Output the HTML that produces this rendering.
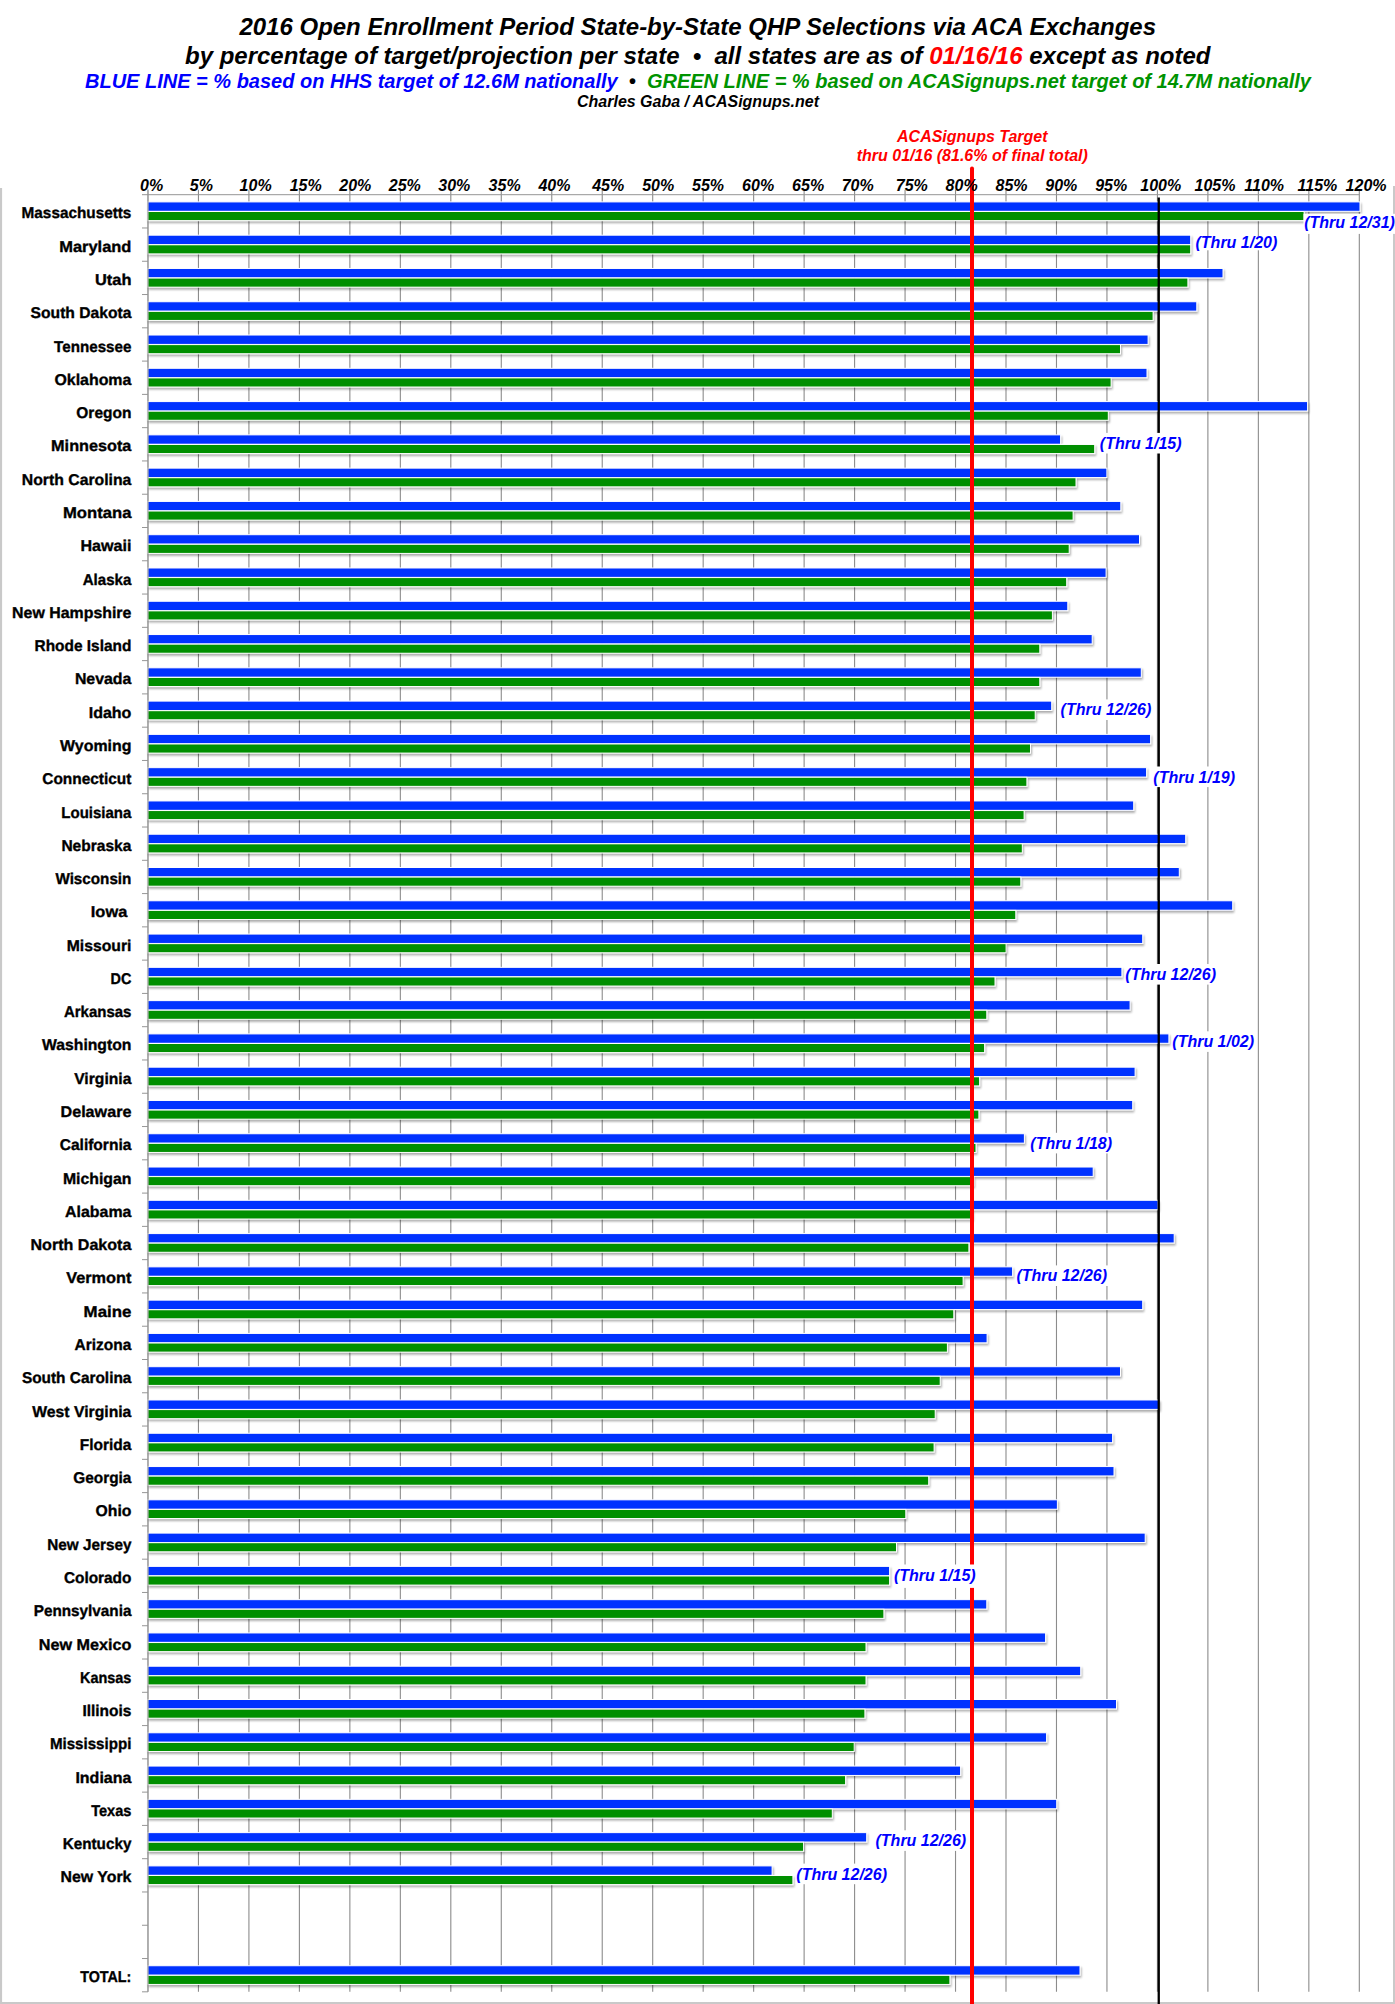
<!DOCTYPE html>
<html lang="en"><head><meta charset="utf-8"><title>2016 Open Enrollment Period State-by-State QHP Selections via ACA Exchanges</title>
<style>html,body{margin:0;padding:0;background:#fff}body{width:1395px;height:2004px;overflow:hidden}svg{display:block}text{font-family:"Liberation Sans",sans-serif;font-weight:bold;white-space:pre}.i{font-style:italic}.st{font-size:15.6px;text-anchor:end;stroke:#000;stroke-width:.35px;text-rendering:geometricPrecision}.ax{font-size:16px;font-style:italic}.an{font-size:16px;font-style:italic;fill:#0000ff}</style></head><body>
<svg width="1395" height="2004" viewBox="0 0 1395 2004">
<defs><filter id="sh" x="-5%" y="-50%" width="110%" height="250%"><feGaussianBlur in="SourceAlpha" stdDeviation="0.9"/><feOffset dx="1.1" dy="1.6"/><feComponentTransfer><feFuncA type="linear" slope="0.33"/></feComponentTransfer><feMerge><feMergeNode/><feMergeNode in="SourceGraphic"/></feMerge></filter></defs>
<rect width="1395" height="2004" fill="#fff"/>
<path d="M0 188h2.1V2002H1393V186h2V2004H0z" fill="#c9c9c9"/>
<text class="i" x="239.5" y="34.8" font-size="24" textLength="916.5" lengthAdjust="spacingAndGlyphs" xml:space="preserve">2016 Open Enrollment Period State-by-State QHP Selections via ACA Exchanges</text>
<text class="i" x="185.0" y="63.5" font-size="24" textLength="1025.5" lengthAdjust="spacingAndGlyphs" xml:space="preserve">by percentage of target/projection per state  •  all states are as of <tspan fill="#ff0000">01/16/16</tspan> except as noted</text>
<text class="i" x="85.0" y="87.5" font-size="20" textLength="1226.0" lengthAdjust="spacingAndGlyphs" xml:space="preserve"><tspan fill="#0000ff">BLUE LINE = % based on HHS target of 12.6M nationally</tspan>  •  <tspan fill="#009300">GREEN LINE = % based on ACASignups.net target of 14.7M nationally</tspan></text>
<text class="i" x="577.0" y="106.8" font-size="16" textLength="242.0" lengthAdjust="spacingAndGlyphs" xml:space="preserve">Charles Gaba / ACASignups.net</text>
<text class="i" x="972.3" y="141.8" font-size="16" fill="#ff0000" text-anchor="middle">ACASignups Target</text>
<text class="i" x="972.3" y="160.6" font-size="16" fill="#ff0000" text-anchor="middle">thru 01/16 (81.6% of final total)</text>
<path d="M198.45 189.7V1991.8M248.92 189.7V1991.8M299.40 189.7V1991.8M349.87 189.7V1991.8M400.34 189.7V1991.8M450.81 189.7V1991.8M501.28 189.7V1991.8M551.76 189.7V1991.8M602.23 189.7V1991.8M652.70 189.7V1991.8M703.17 189.7V1991.8M753.64 189.7V1991.8M804.12 189.7V1991.8M854.59 189.7V1991.8M905.06 189.7V1991.8M955.53 189.7V1991.8M1006.00 189.7V1991.8M1056.48 189.7V1991.8M1106.95 189.7V1991.8M1157.42 189.7V1991.8M1207.89 189.7V1991.8M1258.36 189.7V1991.8M1308.84 189.7V1991.8M1359.31 189.7V1991.8" stroke="#8c8c8c" stroke-width="1.1" fill="none"/>
<path d="M147.98 189.7V1991.8M142.0 194.70H1359.8M142.0 227.98H148.0M142.0 261.26H148.0M142.0 294.54H148.0M142.0 327.82H148.0M142.0 361.10H148.0M142.0 394.38H148.0M142.0 427.66H148.0M142.0 460.94H148.0M142.0 494.22H148.0M142.0 527.50H148.0M142.0 560.78H148.0M142.0 594.06H148.0M142.0 627.34H148.0M142.0 660.62H148.0M142.0 693.90H148.0M142.0 727.18H148.0M142.0 760.46H148.0M142.0 793.74H148.0M142.0 827.02H148.0M142.0 860.30H148.0M142.0 893.58H148.0M142.0 926.86H148.0M142.0 960.14H148.0M142.0 993.42H148.0M142.0 1026.70H148.0M142.0 1059.98H148.0M142.0 1093.26H148.0M142.0 1126.54H148.0M142.0 1159.82H148.0M142.0 1193.10H148.0M142.0 1226.38H148.0M142.0 1259.66H148.0M142.0 1292.94H148.0M142.0 1326.22H148.0M142.0 1359.50H148.0M142.0 1392.78H148.0M142.0 1426.06H148.0M142.0 1459.34H148.0M142.0 1492.62H148.0M142.0 1525.90H148.0M142.0 1559.18H148.0M142.0 1592.46H148.0M142.0 1625.74H148.0M142.0 1659.02H148.0M142.0 1692.30H148.0M142.0 1725.58H148.0M142.0 1758.86H148.0M142.0 1792.14H148.0M142.0 1825.42H148.0M142.0 1858.70H148.0M142.0 1891.98H148.0M142.0 1925.26H148.0M142.0 1958.54H148.0M142.0 1991.82H148.0" stroke="#969696" stroke-width="1" fill="none"/>
<g filter="url(#sh)" stroke="#fff" stroke-width="1">
<rect x="147.8" y="201.90" width="1212.2" height="9.4" fill="#0433ff"/>
<rect x="147.8" y="211.50" width="1156.3" height="9.1" fill="#008f00"/>
<rect x="147.8" y="235.18" width="1042.9" height="9.4" fill="#0433ff"/>
<rect x="147.8" y="244.78" width="1042.9" height="9.1" fill="#008f00"/>
<rect x="147.8" y="268.46" width="1075.2" height="9.4" fill="#0433ff"/>
<rect x="147.8" y="278.06" width="1040.1" height="9.1" fill="#008f00"/>
<rect x="147.8" y="301.74" width="1049.0" height="9.4" fill="#0433ff"/>
<rect x="147.8" y="311.34" width="1005.3" height="9.1" fill="#008f00"/>
<rect x="147.8" y="335.02" width="1000.3" height="9.4" fill="#0433ff"/>
<rect x="147.8" y="344.62" width="972.7" height="9.1" fill="#008f00"/>
<rect x="147.8" y="368.30" width="999.2" height="9.4" fill="#0433ff"/>
<rect x="147.8" y="377.90" width="963.3" height="9.1" fill="#008f00"/>
<rect x="147.8" y="401.58" width="1159.8" height="9.4" fill="#0433ff"/>
<rect x="147.8" y="411.18" width="960.5" height="9.1" fill="#008f00"/>
<rect x="147.8" y="434.86" width="912.8" height="9.4" fill="#0433ff"/>
<rect x="147.8" y="444.46" width="946.9" height="9.1" fill="#008f00"/>
<rect x="147.8" y="468.14" width="959.1" height="9.4" fill="#0433ff"/>
<rect x="147.8" y="477.74" width="928.2" height="9.1" fill="#008f00"/>
<rect x="147.8" y="501.42" width="973.0" height="9.4" fill="#0433ff"/>
<rect x="147.8" y="511.02" width="925.3" height="9.1" fill="#008f00"/>
<rect x="147.8" y="534.70" width="991.7" height="9.4" fill="#0433ff"/>
<rect x="147.8" y="544.30" width="921.4" height="9.1" fill="#008f00"/>
<rect x="147.8" y="567.98" width="958.3" height="9.4" fill="#0433ff"/>
<rect x="147.8" y="577.58" width="918.9" height="9.1" fill="#008f00"/>
<rect x="147.8" y="601.26" width="920.0" height="9.4" fill="#0433ff"/>
<rect x="147.8" y="610.86" width="904.6" height="9.1" fill="#008f00"/>
<rect x="147.8" y="634.54" width="944.4" height="9.4" fill="#0433ff"/>
<rect x="147.8" y="644.14" width="892.0" height="9.1" fill="#008f00"/>
<rect x="147.8" y="667.82" width="993.5" height="9.4" fill="#0433ff"/>
<rect x="147.8" y="677.42" width="892.0" height="9.1" fill="#008f00"/>
<rect x="147.8" y="701.10" width="903.9" height="9.4" fill="#0433ff"/>
<rect x="147.8" y="710.70" width="887.4" height="9.1" fill="#008f00"/>
<rect x="147.8" y="734.38" width="1002.8" height="9.4" fill="#0433ff"/>
<rect x="147.8" y="743.98" width="882.7" height="9.1" fill="#008f00"/>
<rect x="147.8" y="767.66" width="998.8" height="9.4" fill="#0433ff"/>
<rect x="147.8" y="777.26" width="879.1" height="9.1" fill="#008f00"/>
<rect x="147.8" y="800.94" width="985.9" height="9.4" fill="#0433ff"/>
<rect x="147.8" y="810.54" width="876.3" height="9.1" fill="#008f00"/>
<rect x="147.8" y="834.22" width="1037.9" height="9.4" fill="#0433ff"/>
<rect x="147.8" y="843.82" width="874.5" height="9.1" fill="#008f00"/>
<rect x="147.8" y="867.50" width="1031.5" height="9.4" fill="#0433ff"/>
<rect x="147.8" y="877.10" width="873.0" height="9.1" fill="#008f00"/>
<rect x="147.8" y="900.78" width="1084.9" height="9.4" fill="#0433ff"/>
<rect x="147.8" y="910.38" width="868.0" height="9.1" fill="#008f00"/>
<rect x="147.8" y="934.06" width="994.9" height="9.4" fill="#0433ff"/>
<rect x="147.8" y="943.66" width="858.3" height="9.1" fill="#008f00"/>
<rect x="147.8" y="967.34" width="974.1" height="9.4" fill="#0433ff"/>
<rect x="147.8" y="976.94" width="847.2" height="9.1" fill="#008f00"/>
<rect x="147.8" y="1000.62" width="982.3" height="9.4" fill="#0433ff"/>
<rect x="147.8" y="1010.22" width="839.0" height="9.1" fill="#008f00"/>
<rect x="147.8" y="1033.90" width="1021.1" height="9.4" fill="#0433ff"/>
<rect x="147.8" y="1043.50" width="836.8" height="9.1" fill="#008f00"/>
<rect x="147.8" y="1067.18" width="987.3" height="9.4" fill="#0433ff"/>
<rect x="147.8" y="1076.78" width="831.8" height="9.1" fill="#008f00"/>
<rect x="147.8" y="1100.46" width="984.9" height="9.4" fill="#0433ff"/>
<rect x="147.8" y="1110.06" width="831.1" height="9.1" fill="#008f00"/>
<rect x="147.8" y="1133.74" width="876.6" height="9.4" fill="#0433ff"/>
<rect x="147.8" y="1143.34" width="828.2" height="9.1" fill="#008f00"/>
<rect x="147.8" y="1167.02" width="945.4" height="9.4" fill="#0433ff"/>
<rect x="147.8" y="1176.62" width="825.8" height="9.1" fill="#008f00"/>
<rect x="147.8" y="1200.30" width="1010.3" height="9.4" fill="#0433ff"/>
<rect x="147.8" y="1209.90" width="824.3" height="9.1" fill="#008f00"/>
<rect x="147.8" y="1233.58" width="1026.4" height="9.4" fill="#0433ff"/>
<rect x="147.8" y="1243.18" width="821.1" height="9.1" fill="#008f00"/>
<rect x="147.8" y="1266.86" width="864.8" height="9.4" fill="#0433ff"/>
<rect x="147.8" y="1276.46" width="815.3" height="9.1" fill="#008f00"/>
<rect x="147.8" y="1300.14" width="994.9" height="9.4" fill="#0433ff"/>
<rect x="147.8" y="1309.74" width="806.0" height="9.1" fill="#008f00"/>
<rect x="147.8" y="1333.42" width="839.3" height="9.4" fill="#0433ff"/>
<rect x="147.8" y="1343.02" width="799.6" height="9.1" fill="#008f00"/>
<rect x="147.8" y="1366.70" width="972.7" height="9.4" fill="#0433ff"/>
<rect x="147.8" y="1376.30" width="792.4" height="9.1" fill="#008f00"/>
<rect x="147.8" y="1399.98" width="1011.4" height="9.4" fill="#0433ff"/>
<rect x="147.8" y="1409.58" width="787.4" height="9.1" fill="#008f00"/>
<rect x="147.8" y="1433.26" width="964.8" height="9.4" fill="#0433ff"/>
<rect x="147.8" y="1442.86" width="786.3" height="9.1" fill="#008f00"/>
<rect x="147.8" y="1466.54" width="966.2" height="9.4" fill="#0433ff"/>
<rect x="147.8" y="1476.14" width="780.9" height="9.1" fill="#008f00"/>
<rect x="147.8" y="1499.82" width="909.6" height="9.4" fill="#0433ff"/>
<rect x="147.8" y="1509.42" width="758.0" height="9.1" fill="#008f00"/>
<rect x="147.8" y="1533.10" width="997.4" height="9.4" fill="#0433ff"/>
<rect x="147.8" y="1542.70" width="748.7" height="9.1" fill="#008f00"/>
<rect x="147.8" y="1566.38" width="741.8" height="9.4" fill="#0433ff"/>
<rect x="147.8" y="1575.98" width="741.8" height="9.1" fill="#008f00"/>
<rect x="147.8" y="1599.66" width="839.0" height="9.4" fill="#0433ff"/>
<rect x="147.8" y="1609.26" width="736.1" height="9.1" fill="#008f00"/>
<rect x="147.8" y="1632.94" width="897.8" height="9.4" fill="#0433ff"/>
<rect x="147.8" y="1642.54" width="718.2" height="9.1" fill="#008f00"/>
<rect x="147.8" y="1666.22" width="932.9" height="9.4" fill="#0433ff"/>
<rect x="147.8" y="1675.82" width="718.2" height="9.1" fill="#008f00"/>
<rect x="147.8" y="1699.50" width="968.7" height="9.4" fill="#0433ff"/>
<rect x="147.8" y="1709.10" width="717.1" height="9.1" fill="#008f00"/>
<rect x="147.8" y="1732.78" width="898.8" height="9.4" fill="#0433ff"/>
<rect x="147.8" y="1742.38" width="706.4" height="9.1" fill="#008f00"/>
<rect x="147.8" y="1766.06" width="812.8" height="9.4" fill="#0433ff"/>
<rect x="147.8" y="1775.66" width="697.8" height="9.1" fill="#008f00"/>
<rect x="147.8" y="1799.34" width="908.9" height="9.4" fill="#0433ff"/>
<rect x="147.8" y="1808.94" width="684.5" height="9.1" fill="#008f00"/>
<rect x="147.8" y="1832.62" width="718.9" height="9.4" fill="#0433ff"/>
<rect x="147.8" y="1842.22" width="655.8" height="9.1" fill="#008f00"/>
<rect x="147.8" y="1865.90" width="624.3" height="9.4" fill="#0433ff"/>
<rect x="147.8" y="1875.50" width="645.1" height="9.1" fill="#008f00"/>
<rect x="147.8" y="1965.74" width="932.2" height="9.4" fill="#0433ff"/>
<rect x="147.8" y="1975.34" width="802.1" height="9.1" fill="#008f00"/>
</g>
<path d="M147.98 189.7V1991.8" stroke="#969696" stroke-width="1" fill="none"/>
<path d="M1158.75 197.6V2004" stroke="#000" stroke-width="2.3" fill="none"/>
<path d="M972.0 168.6V2009" stroke="#ff0000" stroke-width="4.0" stroke-linecap="round" fill="none"/>
<text class="ax" x="140.00" y="190.8">0%</text>
<text class="ax" x="189.80" y="190.8">5%</text>
<text class="ax" x="239.60" y="190.8">10%</text>
<text class="ax" x="289.70" y="190.8">15%</text>
<text class="ax" x="339.30" y="190.8">20%</text>
<text class="ax" x="388.80" y="190.8">25%</text>
<text class="ax" x="438.30" y="190.8">30%</text>
<text class="ax" x="488.60" y="190.8">35%</text>
<text class="ax" x="538.40" y="190.8">40%</text>
<text class="ax" x="592.20" y="190.8">45%</text>
<text class="ax" x="642.20" y="190.8">50%</text>
<text class="ax" x="692.00" y="190.8">55%</text>
<text class="ax" x="742.10" y="190.8">60%</text>
<text class="ax" x="792.10" y="190.8">65%</text>
<text class="ax" x="841.70" y="190.8">70%</text>
<text class="ax" x="895.80" y="190.8">75%</text>
<text class="ax" x="945.60" y="190.8">80%</text>
<text class="ax" x="995.50" y="190.8">85%</text>
<text class="ax" x="1045.30" y="190.8">90%</text>
<text class="ax" x="1095.20" y="190.8">95%</text>
<text class="ax" x="1140.30" y="190.8">100%</text>
<text class="ax" x="1194.50" y="190.8">105%</text>
<text class="ax" x="1244.30" y="190.8">110%</text>
<text class="ax" x="1297.60" y="190.8">115%</text>
<text class="ax" x="1345.60" y="190.8">120%</text>
<rect x="1303.5" y="213.8" width="94.0" height="20.1" fill="#fff"/>
<text class="an" x="1304.2" y="228.1">(Thru 12/31)</text>
<rect x="1194.8" y="236.3" width="85.0" height="14.0" fill="#fff"/>
<text class="an" x="1195.5" y="247.8">(Thru 1/20)</text>
<rect x="1099.1" y="432.9" width="85.0" height="20.6" fill="#fff"/>
<text class="an" x="1099.8" y="448.9">(Thru 1/15)</text>
<rect x="1059.9" y="699.4" width="94.0" height="20.6" fill="#fff"/>
<text class="an" x="1060.6" y="715.4">(Thru 12/26)</text>
<rect x="1152.6" y="766.5" width="85.0" height="20.6" fill="#fff"/>
<text class="an" x="1153.3" y="782.5">(Thru 1/19)</text>
<rect x="1124.6" y="964.0" width="94.0" height="20.6" fill="#fff"/>
<text class="an" x="1125.3" y="980.0">(Thru 12/26)</text>
<rect x="1171.6" y="1031.3" width="85.0" height="20.6" fill="#fff"/>
<text class="an" x="1172.3" y="1047.3">(Thru 1/02)</text>
<rect x="1029.6" y="1132.8" width="85.0" height="20.6" fill="#fff"/>
<text class="an" x="1030.3" y="1148.8">(Thru 1/18)</text>
<rect x="1015.7" y="1265.4" width="94.0" height="20.6" fill="#fff"/>
<text class="an" x="1016.4" y="1281.4">(Thru 12/26)</text>
<rect x="893.2" y="1564.5" width="85.0" height="23.4" fill="#fff"/>
<text class="an" x="893.9" y="1581.0">(Thru 1/15)</text>
<rect x="874.8" y="1830.3" width="94.0" height="20.6" fill="#fff"/>
<text class="an" x="875.5" y="1846.3">(Thru 12/26)</text>
<rect x="795.6" y="1863.6" width="94.0" height="20.6" fill="#fff"/>
<text class="an" x="796.3" y="1879.6">(Thru 12/26)</text>
<text class="st" x="131.4" y="218.4" textLength="109.8" lengthAdjust="spacingAndGlyphs">Massachusetts</text>
<text class="st" x="131.4" y="251.7" textLength="72.2" lengthAdjust="spacingAndGlyphs">Maryland</text>
<text class="st" x="131.4" y="285.0" textLength="36.4" lengthAdjust="spacingAndGlyphs">Utah</text>
<text class="st" x="131.4" y="318.3" textLength="100.8" lengthAdjust="spacingAndGlyphs">South Dakota</text>
<text class="st" x="131.4" y="351.6" textLength="77.3" lengthAdjust="spacingAndGlyphs">Tennessee</text>
<text class="st" x="131.4" y="384.8" textLength="77.0" lengthAdjust="spacingAndGlyphs">Oklahoma</text>
<text class="st" x="131.4" y="418.1" textLength="55.1" lengthAdjust="spacingAndGlyphs">Oregon</text>
<text class="st" x="131.4" y="451.4" textLength="80.3" lengthAdjust="spacingAndGlyphs">Minnesota</text>
<text class="st" x="131.4" y="484.7" textLength="109.6" lengthAdjust="spacingAndGlyphs">North Carolina</text>
<text class="st" x="131.4" y="518.0" textLength="68.4" lengthAdjust="spacingAndGlyphs">Montana</text>
<text class="st" x="131.4" y="551.2" textLength="51.0" lengthAdjust="spacingAndGlyphs">Hawaii</text>
<text class="st" x="131.4" y="584.5" textLength="48.7" lengthAdjust="spacingAndGlyphs">Alaska</text>
<text class="st" x="131.4" y="617.8" textLength="119.3" lengthAdjust="spacingAndGlyphs">New Hampshire</text>
<text class="st" x="131.4" y="651.1" textLength="96.9" lengthAdjust="spacingAndGlyphs">Rhode Island</text>
<text class="st" x="131.4" y="684.4" textLength="56.5" lengthAdjust="spacingAndGlyphs">Nevada</text>
<text class="st" x="131.4" y="717.6" textLength="42.7" lengthAdjust="spacingAndGlyphs">Idaho</text>
<text class="st" x="131.4" y="750.9" textLength="71.3" lengthAdjust="spacingAndGlyphs">Wyoming</text>
<text class="st" x="131.4" y="784.2" textLength="89.1" lengthAdjust="spacingAndGlyphs">Connecticut</text>
<text class="st" x="131.4" y="817.5" textLength="70.1" lengthAdjust="spacingAndGlyphs">Louisiana</text>
<text class="st" x="131.4" y="850.8" textLength="70.0" lengthAdjust="spacingAndGlyphs">Nebraska</text>
<text class="st" x="131.4" y="884.0" textLength="76.0" lengthAdjust="spacingAndGlyphs">Wisconsin</text>
<text class="st" x="127.3" y="917.3" textLength="36.5" lengthAdjust="spacingAndGlyphs">Iowa</text>
<text class="st" x="131.4" y="950.6" textLength="64.7" lengthAdjust="spacingAndGlyphs">Missouri</text>
<text class="st" x="131.4" y="983.9" textLength="20.9" lengthAdjust="spacingAndGlyphs">DC</text>
<text class="st" x="131.4" y="1017.2" textLength="67.5" lengthAdjust="spacingAndGlyphs">Arkansas</text>
<text class="st" x="131.4" y="1050.4" textLength="89.3" lengthAdjust="spacingAndGlyphs">Washington</text>
<text class="st" x="131.4" y="1083.7" textLength="57.2" lengthAdjust="spacingAndGlyphs">Virginia</text>
<text class="st" x="131.4" y="1117.0" textLength="70.9" lengthAdjust="spacingAndGlyphs">Delaware</text>
<text class="st" x="131.4" y="1150.3" textLength="71.7" lengthAdjust="spacingAndGlyphs">California</text>
<text class="st" x="131.4" y="1183.6" textLength="68.5" lengthAdjust="spacingAndGlyphs">Michigan</text>
<text class="st" x="131.4" y="1216.8" textLength="66.3" lengthAdjust="spacingAndGlyphs">Alabama</text>
<text class="st" x="131.4" y="1250.1" textLength="100.9" lengthAdjust="spacingAndGlyphs">North Dakota</text>
<text class="st" x="131.4" y="1283.4" textLength="65.2" lengthAdjust="spacingAndGlyphs">Vermont</text>
<text class="st" x="131.4" y="1316.7" textLength="47.8" lengthAdjust="spacingAndGlyphs">Maine</text>
<text class="st" x="131.4" y="1350.0" textLength="56.8" lengthAdjust="spacingAndGlyphs">Arizona</text>
<text class="st" x="131.4" y="1383.2" textLength="109.5" lengthAdjust="spacingAndGlyphs">South Carolina</text>
<text class="st" x="131.4" y="1416.5" textLength="99.2" lengthAdjust="spacingAndGlyphs">West Virginia</text>
<text class="st" x="131.4" y="1449.8" textLength="51.7" lengthAdjust="spacingAndGlyphs">Florida</text>
<text class="st" x="131.4" y="1483.1" textLength="58.2" lengthAdjust="spacingAndGlyphs">Georgia</text>
<text class="st" x="131.4" y="1516.4" textLength="35.9" lengthAdjust="spacingAndGlyphs">Ohio</text>
<text class="st" x="131.4" y="1549.6" textLength="84.1" lengthAdjust="spacingAndGlyphs">New Jersey</text>
<text class="st" x="131.4" y="1582.9" textLength="67.5" lengthAdjust="spacingAndGlyphs">Colorado</text>
<text class="st" x="131.4" y="1616.2" textLength="97.6" lengthAdjust="spacingAndGlyphs">Pennsylvania</text>
<text class="st" x="131.4" y="1649.5" textLength="92.6" lengthAdjust="spacingAndGlyphs">New Mexico</text>
<text class="st" x="131.4" y="1682.8" textLength="51.4" lengthAdjust="spacingAndGlyphs">Kansas</text>
<text class="st" x="131.4" y="1716.0" textLength="49.0" lengthAdjust="spacingAndGlyphs">Illinois</text>
<text class="st" x="131.4" y="1749.3" textLength="81.5" lengthAdjust="spacingAndGlyphs">Mississippi</text>
<text class="st" x="131.4" y="1782.6" textLength="56.0" lengthAdjust="spacingAndGlyphs">Indiana</text>
<text class="st" x="131.4" y="1815.9" textLength="40.2" lengthAdjust="spacingAndGlyphs">Texas</text>
<text class="st" x="131.4" y="1849.2" textLength="68.7" lengthAdjust="spacingAndGlyphs">Kentucky</text>
<text class="st" x="131.4" y="1882.4" textLength="70.9" lengthAdjust="spacingAndGlyphs">New York</text>
<text class="st" x="131.4" y="1982.3" textLength="51.2" lengthAdjust="spacingAndGlyphs">TOTAL:</text>
</svg></body></html>
